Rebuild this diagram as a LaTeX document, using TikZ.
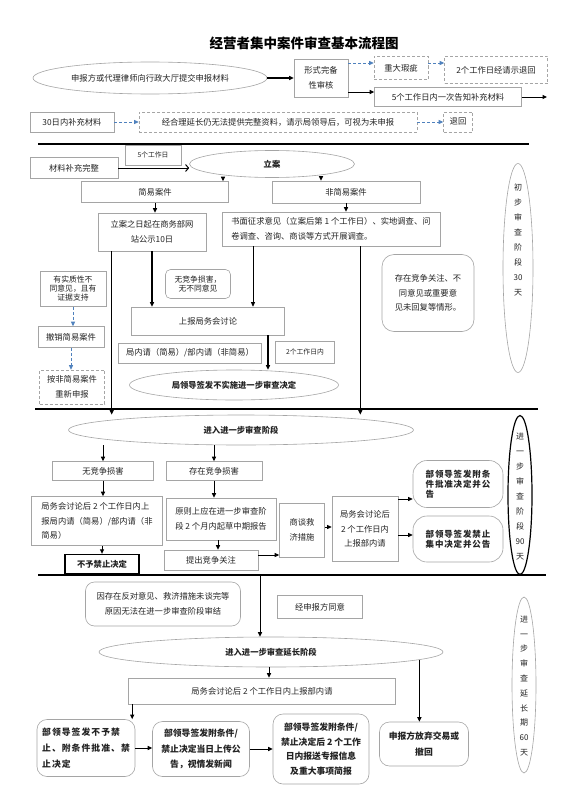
\documentclass[tikz,border=0pt]{standalone}
\usepackage{fontspec}
\setmainfont{Noto Sans CJK SC}
\usepackage{tikz}
\usetikzlibrary{shapes.geometric,arrows.meta,positioning}
\definecolor{linegray}{RGB}{165,165,165}
\definecolor{dashblue}{RGB}{79,129,189}
\definecolor{textdark}{RGB}{35,35,35}
\tikzset{dim/.style 2 args={minimum width=#1pt,minimum height=#2pt}}

\begin{document}
\begin{tikzpicture}[x=1pt,y=-1pt,
  box/.style={rectangle,draw=linegray,line width=0.6pt,inner sep=1pt,align=center,
              text=textdark,font=\fontsize{8.3}{14.5}\selectfont},
  dbox/.style={box,densely dashed},
  rbox/.style={box,rounded corners=7pt},
  oval/.style={ellipse,draw=linegray,line width=0.6pt,inner sep=0pt,text=textdark,
               font=\fontsize{8.3}{12}\selectfont},
  boval/.style={oval,font=\fontsize{8.3}{12}\selectfont\bfseries},
  tinytext/.style={font=\fontsize{6.8}{8}\selectfont},
  tighttext/.style={font=\fontsize{7.8}{9}\selectfont},
  boldtext/.style={font=\fontsize{8.5}{10}\selectfont\bfseries\addfontfeature{LetterSpace=10}},
  bigbold/.style={font=\fontsize{8.8}{15.5}\selectfont\bfseries},
  vtext/.style={align=center,text=textdark,inner sep=0pt,font=\fontsize{8}{15}\selectfont},
  arr/.style={-{Triangle[length=4.5pt,width=4pt]},line width=1pt},
  darr/.style={-{Triangle[length=4.5pt,width=4pt]},densely dashed,line width=0.8pt,color=dashblue},
  divider/.style={line width=1.5pt}
]
  \useasboundingbox[fill=white] (0,0) rectangle (576,800);

  \node[font=\fontsize{13.5}{16}\selectfont\bfseries] (title) at (304,43) {经营者集中案件审查基本流程图};

  % acceptance
  \node[oval,dim={234}{32}] (apply) at (150,78) {申报方或代理律师向行政大厅提交申报材料};
  \node[box,dim={54}{38}] (formchk) at (321,78) {形式完备\\性审核};
  \node[dbox,dim={54}{23}] (major) at (401,68) {重大瑕疵};
  \node[dbox,dim={103}{27}] (retn) at (496,70) {2个工作日经请示退回};
  \node[box,dim={147}{19}] (notify) at (448,97) {5个工作日内一次告知补充材料};
  \coordinate (notifyend) at (547,97);
  \draw[arr,line width=1.3pt] (apply.east) -- (apply.east -| formchk.west);
  \draw[darr] ([yshift=15pt]formchk.east) -- ([yshift=15pt]formchk.east -| major.west);
  \draw[darr] ([yshift=5pt]major.east) -- ([yshift=5pt]major.east -| retn.west);
  \draw[arr] ([yshift=-14pt]formchk.east) -- ([yshift=-14pt]formchk.east -| notify.west);
  \draw[arr] (notify.east) -- (notifyend);

  \node[box,dim={84}{20}] (supp) at (72,122) {30日内补充材料};
  \node[dbox,dim={278}{20}] (overdue) at (278,122) {经合理延长仍无法提供完整资料，请示局领导后，可视为未申报};
  \node[dbox,dim={29}{20}] (back) at (458,122) {退回};
  \draw[darr] (supp) -- (overdue);
  \draw[darr] (overdue) -- (back);

  \draw[divider] (38,144) -- (529,144);

  % preliminary review
  \node[box,dim={88}{21}] (complete) at (74,168) {材料补充完整};
  \node[box,tinytext,dim={56}{20}] (fivework) at (153,155) {5个工作日};
  \node[boval,dim={165}{27}] (lian) at (272,164) {立案};
  \draw[-{Straight Barb[length=3pt,width=7pt]},line width=1pt] (complete.east) -- (complete.east -| lian.west);

  \node[box,dim={147}{21}] (simple) at (155,192) {简易案件};
  \node[box,dim={148}{22}] (normal) at (346,192) {非简易案件};
  \draw[arr] ([xshift=-49pt]lian.south) -- ([xshift=-49pt]lian.south |- simple.north);
  \draw[arr] ([xshift=49pt]lian.south) -- ([xshift=49pt]lian.south |- normal.north);

  \node[box,dim={108}{38}] (publish) at (152,232) {立案之日起在商务部网\\站公示10日};
  \node[box,align=left,dim={218}{34}] (survey) at (331,229) {书面征求意见（立案后第 1 个工作日）、实地调查、问\\卷调查、咨询、商谈等方式开展调查。};
  \draw[arr] (simple.south) -- (simple.south |- publish.north);
  \draw[arr] (normal.south) -- (normal.south |- survey.north);

  \node[rbox,tighttext,rounded corners=5pt,dim={65}{29}] (harmless) at (198,284) {无竞争损害，\\无不同意见};
  \node[box,dim={153}{28}] (meeting) at (208,321) {上报局务会讨论};
  \draw[arr,line width=1.3pt] (publish.south) -- (publish.south |- meeting.north);
  \draw[arr,line width=0.7pt] ([xshift=-78pt]survey.south) -- ([xshift=-78pt]survey.south |- meeting.north);

  \node[box,dim={143}{20}] (internal) at (190,353) {局内请（简易）/部内请（非简易）};
  \node[box,tinytext,dim={59}{22}] (twowork) at (305,352) {2个工作日内};
  \node[boval,dim={209}{30}] (noaction) at (234,385) {局领导签发不实施进一步审查决定};
  \draw[arr,line width=1.3pt] ([xshift=60pt]meeting.south) -- ([xshift=60pt]meeting.south |- noaction.north);

  \node[box,tighttext,dim={66}{35}] (objection) at (73,289) {有实质性不\\同意见，且有\\证据支持};
  \node[box,dim={66}{21}] (withdraw) at (71,337) {撤销简易案件};
  \node[dbox,dim={65}{34}] (refile) at (72,387) {按非简易案件\\重新申报};
  \draw[darr] (objection.south) -- (objection.south |- withdraw.north);
  \draw[darr] (withdraw.south) -- (withdraw.south |- refile.north);

  \node[rbox,rounded corners=12pt,dim={92}{77}] (concern1) at (428,293) {存在竞争关注、不\\同意见或重要意\\见未回复等情形。};
  \node[oval,dim={30}{209}] (stage1) at (518,268) {};
  \node[vtext] (stage1txt) at (518,240) {初\\步\\审\\查\\阶\\段\\30\\天};

  \draw[divider] (35,409) -- (538,409);

  % further review
  \node[boval,dim={345}{30}] (further) at (241,430) {进入进一步审查阶段};
  \draw[arr,line width=1.3pt] ([xshift=14pt]publish.south west) -- ([xshift=14pt]publish.south west |- further.north);
  \draw[arr,line width=1.3pt] ([xshift=-80pt]survey.south east) -- ([xshift=-80pt]survey.south east |- further.north);

  \node[box,dim={101}{19}] (noharm) at (103,471) {无竞争损害};
  \node[box,dim={96}{19}] (harm) at (214,471) {存在竞争损害};
  \draw[arr] (noharm.north |- further.south) -- (noharm.north);
  \draw[arr] (harm.north |- further.south) -- (harm.north);

  \node[box,align=left,dim={131}{49}] (report1) at (97,521) {局务会讨论后 2 个工作日内上\\报局内请（简易）/部内请（非\\简易）};
  \node[box,dim={110}{42}] (interim) at (221,519) {原则上应在进一步审查阶\\段 2 个月内起草中期报告};
  \draw[arr] (noharm.south) -- (noharm.south |- report1.north);
  \draw[arr] (harm.south) -- (harm.south |- interim.north);

  \node[box,draw=black,line width=1.3pt,dim={74}{19},font=\fontsize{8.3}{10}\selectfont\bfseries] (noban) at (102,564) {不予禁止决定};
  \draw[arr] ([xshift=5pt]report1.south) -- ([xshift=5pt]report1.south |- noban.north);

  \node[box,dim={94}{20}] (raise) at (211,560) {提出竞争关注};
  \draw[arr] ([xshift=-3pt]interim.south) -- ([xshift=-3pt]interim.south |- raise.north);

  \node[box,dim={45}{54}] (negotiate) at (302,530) {商谈救\\济措施};
  \draw[arr,line width=0.8pt] ([yshift=5pt]raise.east) -- ([yshift=5pt]raise.east -| negotiate.west);

  \node[box,dim={66}{65}] (deptreq) at (365,529) {局务会讨论后\\2 个工作日内\\上报部内请};
  \draw[arr,line width=0.8pt] ([yshift=3pt]negotiate.east) -- ([yshift=3pt]negotiate.east -| deptreq.west);

  \node[rbox,boldtext,align=left,rounded corners=14pt,dim={90}{47}] (condok) at (458,484) {部领导签发附条\\件批准决定并公\\告};
  \node[rbox,boldtext,align=left,rounded corners=14pt,dim={90}{46}] (banned) at (458,539) {部领导签发禁止\\集中决定并公告};
  \draw[arr,line width=0.8pt] ([yshift=30pt]deptreq.east) -- ([yshift=30pt]deptreq.east -| condok.west);
  \draw[arr,line width=0.8pt] ([yshift=-6pt]deptreq.east) -- ([yshift=-6pt]deptreq.east -| banned.west);

  \node[ellipse,draw=black,line width=1.2pt,dim={24}{159}] (stage2) at (520,495) {};
  \node[vtext] (stage2txt) at (520,497) {进\\一\\步\\审\\查\\阶\\段\\90\\天};

  \draw[divider] (38,575) -- (546,575);
  \coordinate (split) at (260,575);

  % extended review
  \node[rbox,rounded corners=9pt,dim={155}{44}] (unfinished) at (163,604) {因存在反对意见、救济措施未谈完等\\原因无法在进一步审查阶段审结};
  \node[box,dim={85}{23}] (consent) at (320,607) {经申报方同意};
  \node[boval,dim={344}{30}] (extend) at (271,652) {进入进一步审查延长阶段};
  \draw[arr] (split) -- (split |- extend.north);

  \node[box,dim={267}{26}] (deptreq2) at (262,691) {局务会讨论后 2 个工作日内上报部内请};
  \draw[arr] ([xshift=-2pt]extend.south) -- ([xshift=-2pt]extend.south |- deptreq2.north);

  \node[rbox,align=left,rounded corners=10pt,dim={98}{57},font=\fontsize{8.8}{16}\selectfont\bfseries\addfontfeature{LetterSpace=12}] (final1) at (86,748) {部领导签发不予禁\\止、附条件批准、禁\\止决定};
  \node[rbox,bigbold,rounded corners=10pt,dim={97}{55}] (final2) at (201,749) {部领导签发附条件/\\禁止决定当日上传公\\告，视情发新闻};
  \node[rbox,rounded corners=10pt,dim={96}{70},font=\fontsize{8.8}{14.5}\selectfont\bfseries] (final3) at (321,749) {部领导签发附条件/\\禁止决定后 2 个工作\\日内报送专报信息\\及重大事项简报};
  \node[rbox,bigbold,rounded corners=10pt,dim={89}{44}] (final4) at (424,744) {申报方放弃交易或\\撤回};
  \draw[arr] ([xshift=4pt]deptreq2.south west) -- ([xshift=4pt]deptreq2.south west |- final1.north);
  \draw[arr] (final1.east) -- (final1.east -| final2.west);
  \draw[arr] (final2.east) -- (final2.east -| final3.west);
  \draw[arr] (extend.-3.2) -- (extend.-3.2 |- final4.north);

  \node[oval,dim={24}{176}] (stage3) at (524,685) {};
  \node[vtext,font=\fontsize{8}{14.8}\selectfont] (stage3txt) at (524,686) {进\\一\\步\\审\\查\\延\\长\\期\\60\\天};
\end{tikzpicture}
\end{document}
